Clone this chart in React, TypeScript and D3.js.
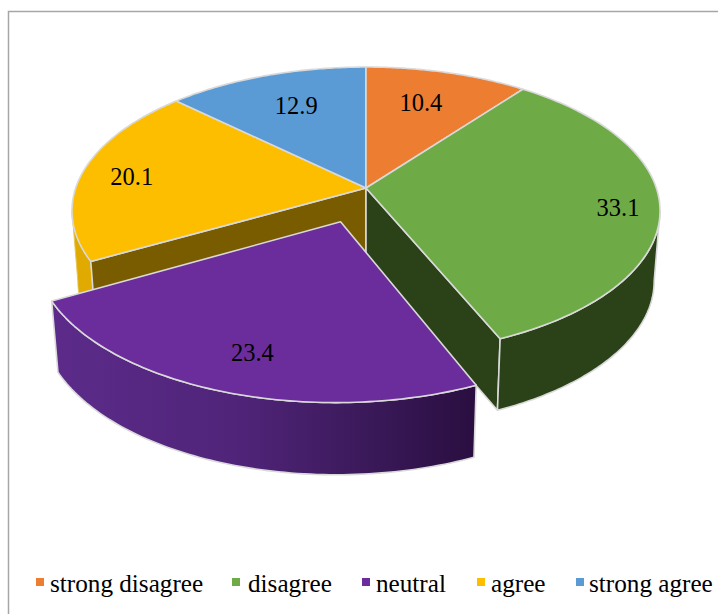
import React from "react";
import * as d3 from "d3";

// Survey response shares, in percent, in clockwise order from twelve o'clock.
const categories = ["strong disagree", "disagree", "neutral", "agree", "strong agree"];
const shares = [10.4, 33.1, 23.4, 20.1, 12.9];
const sliceColors = ["#ed7d31", "#6eab46", "#6c2d9c", "#fdbe00", "#5b9bd5"];

const WIDTH = 718;
const HEIGHT = 614;

// Camera for the tilted disc: a unit circle is projected around its hub.
const HUB = { x: 366, y: 188 };
const CAMERA = { distance: 6.3, focalX: 1829, focalY: 883 };
const WALL = { drop: 70, shrinkX: 0.98, shrinkY: 1.01 };
const EXPLODED_INDEX = 2;
const EXPLODE = 0.245;
const EXPLODE_DRIFT_X = -0.005;
const LABEL_RADIUS = [0.71, 0.87, 0.8, 0.82, 0.71];
const LABEL_NUDGE: [number, number][] = [[-5, 0], [-3, 4], [3, 0], [-2, 3], [4, 0]];
const RIM = "#d9d9d9";

type P = [number, number];

const project = (x: number, z: number): P => {
  const w = CAMERA.distance - z;
  return [HUB.x + (CAMERA.focalX * x) / w, HUB.y + (CAMERA.focalY * z) / w];
};
const lower = ([x, y]: P): P => [
  HUB.x + (x - HUB.x) * WALL.shrinkX,
  HUB.y + (y - HUB.y) * WALL.shrinkY + WALL.drop,
];

const pieLayout = d3.pie<number>().sort(null).value((d) => d);
const arcs = pieLayout(shares);
const linePath = d3.line<P>();

// Angles where the projected rim reaches its widest extent on each side.
const SILHOUETTE = Math.asin(1 / CAMERA.distance);
const RIGHT_EDGE = Math.PI / 2 + SILHOUETTE;
const LEFT_EDGE = (3 * Math.PI) / 2 - SILHOUETTE;

const midOf = (a: { startAngle: number; endAngle: number }) => (a.startAngle + a.endAngle) / 2;
const offsetOf = (i: number) => (i === EXPLODED_INDEX ? EXPLODE : 0);
const driftOf = (offset: number) => (offset > 0 ? EXPLODE_DRIFT_X : 0);

// Points along a slice's rim, with the slice shifted along its bisector by `offset`.
function rimPoints(a0: number, a1: number, offset: number, mid: number): P[] {
  const ox = Math.sin(mid) * offset + driftOf(offset);
  const oz = -Math.cos(mid) * offset;
  return d3.range(0, 81).map((i) => {
    const a = a0 + ((a1 - a0) * i) / 80;
    return project(Math.sin(a) + ox, -Math.cos(a) + oz);
  });
}
function hubPoint(mid: number, offset: number): P {
  return project(Math.sin(mid) * offset + driftOf(offset), -Math.cos(mid) * offset);
}

function slicePieces(i: number) {
  const a = arcs[i];
  const mid = midOf(a);
  const off = offsetOf(i);
  const rim = rimPoints(a.startAngle, a.endAngle, off, mid);
  const hub = hubPoint(mid, off);
  return {
    rim,
    hub,
    top: linePath([hub, ...rim])! + "Z",
    startFace: linePath([hub, rim[0], lower(rim[0]), lower(hub)])! + "Z",
    endFace: linePath([hub, rim[rim.length - 1], lower(rim[rim.length - 1]), lower(hub)])! + "Z",
  };
}

// Outer wall of a rim stretch between two angles.
function wallPath(i: number, a0: number, a1: number) {
  const mid = midOf(arcs[i]);
  const pts = rimPoints(a0, a1, offsetOf(i), mid);
  return linePath([...pts, ...pts.map(lower).reverse()])! + "Z";
}

const legendTextX = [50, 248, 376, 491, 589];
const legendMarkX = [36, 232, 362, 477, 576];

export default function App() {
  const green = slicePieces(1);
  const purple = slicePieces(2);
  const yellow = slicePieces(3);
  const order = [3, 4, 0, 1];

  return (
    <svg
      width={WIDTH}
      height={HEIGHT}
      viewBox={`0 0 ${WIDTH} ${HEIGHT}`}
      style={{ position: "absolute", left: 0, top: 0, background: "#fff" }}
    >
      <defs>
        <linearGradient id="neutralWall" gradientUnits="userSpaceOnUse" x1={55} x2={475} y1={0} y2={0}>
          <stop offset="0" stopColor="#5c2b8a" />
          <stop offset="0.45" stopColor="#4f2478" />
          <stop offset="0.75" stopColor="#3a1959" />
          <stop offset="1" stopColor="#2a0e40" />
        </linearGradient>
      </defs>

      <path d={`M8.5,${HEIGHT}V11.5H${WIDTH}`} fill="none" stroke="#a6a6a6" strokeWidth={1.5} />

      <g stroke={RIM} strokeWidth={1.6} strokeLinejoin="round">
        {/* Parts of the disc behind the pulled-out slice */}
        <path d={wallPath(3, arcs[3].startAngle, LEFT_EDGE)} fill="#e0aa00" stroke="#e6c65a" strokeWidth={1} />
        <path d={yellow.startFace} fill="#7a5c00" />
        <path d={green.endFace} fill="#2b4219" />
        <path d={wallPath(1, RIGHT_EDGE, arcs[1].endAngle)} fill="#2b4219" />
        {order.map((i) => (
          <path key={categories[i]} d={slicePieces(i).top} fill={sliceColors[i]} />
        ))}

        {/* Pulled-out slice in front */}
        <path d={wallPath(2, arcs[2].startAngle, arcs[2].endAngle)} fill="url(#neutralWall)" />
        <path d={purple.top} fill={sliceColors[2]} />
      </g>

      <g fontFamily="'Liberation Serif', serif" fontSize={24.5} fill="#000" textAnchor="middle">
        {arcs.map((a, i) => {
          const mid = midOf(a);
          const r = LABEL_RADIUS[i];
          const off = offsetOf(i);
          const [x, y] = project(Math.sin(mid) * (r + off), -Math.cos(mid) * (r + off));
          return (
            <text
              key={categories[i]}
              x={x + LABEL_NUDGE[i][0]}
              y={y + LABEL_NUDGE[i][1]}
              dominantBaseline="central"
            >
              {shares[i].toFixed(1)}
            </text>
          );
        })}
      </g>

      <g fontFamily="'Liberation Serif', serif" fontSize={25.2} fill="#000">
        {categories.map((c, i) => (
          <g key={c}>
            <rect x={legendMarkX[i]} y={578} width={8} height={8} fill={sliceColors[i]} />
            <text x={legendTextX[i]} y={592}>{c}</text>
          </g>
        ))}
      </g>
    </svg>
  );
}
